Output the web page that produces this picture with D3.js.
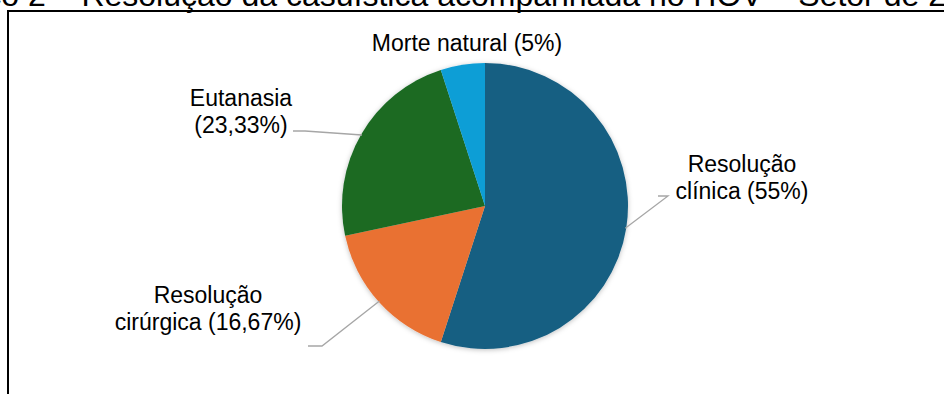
<!DOCTYPE html>
<html>
<head>
<meta charset="utf-8">
<script src="https://cdn.jsdelivr.net/npm/d3@7"></script>
<style>
  body { margin: 0; background: #fff; }
  svg { display: block; font-family: "Liberation Sans", Arial, sans-serif; }
</style>
</head>
<body>
<div id="chart"></div>
<script>
// data
const categories = ["Resolução clínica", "Resolução cirúrgica", "Eutanasia", "Morte natural"];
const values = [55, 16.67, 23.33, 5];
const labelLines = [
    ["Resolução", "clínica (55%)"],
    ["Resolução", "cirúrgica (16,67%)"],
    ["Eutanasia", "(23,33%)"],
    ["Morte natural (5%)"]
];
const colors = ["#175f82", "#e97132", "#1a6b24", "#109ed6"];

// label layout: text centre / first baseline, and the outer end of the leader line
const labelLayout = [
    {x: 742, y: 172, line: [[668, 196], [658, 196]]},
    {x: 208, y: 303, line: [[322, 346], [308, 346]]},
    {x: 241, y: 106, line: [[305, 131], [293, 131]]},
    {x: 467, y: 51, line: null}
];

const width = 944, height = 394;
const cx = 485, cy = 206, radius = 143;

const svg = d3.select("#chart").append("svg")
    .attr("width", width)
    .attr("height", height);

// title (cut off at the top like the source)
svg.append("text")
    .attr("x", -84)
    .attr("y", 6)
    .attr("font-size", 32)
    .attr("fill", "#000")
    .text("Gráfico 2 – Resolução da casuística acompanhada no HOV – Setor de 2");

// frame
svg.append("path")
    .attr("d", `M8,${height + 5} L8,11 L${width + 5},11`)
    .attr("fill", "none")
    .attr("stroke", "#000")
    .attr("stroke-width", 2);

const defs = svg.append("defs");
const shadow = defs.append("filter").attr("id", "shadow")
    .attr("x", "-10%").attr("y", "-10%").attr("width", "120%").attr("height", "120%");
shadow.append("feDropShadow")
    .attr("dx", 0).attr("dy", 1)
    .attr("stdDeviation", 2.5)
    .attr("flood-color", "#000")
    .attr("flood-opacity", 0.25);

const pie = d3.pie().sort(null).value(d => d)(values);
const arc = d3.arc().innerRadius(0).outerRadius(radius);

const g = svg.append("g").attr("transform", `translate(${cx},${cy})`);

g.append("g").attr("filter", "url(#shadow)")
    .selectAll("path")
    .data(pie)
    .enter().append("path")
    .attr("d", arc)
    .attr("fill", (d, i) => colors[i]);

// leader lines
pie.forEach((d, i) => {
    const lay = labelLayout[i];
    if (!lay.line) return;
    const a = (d.startAngle + d.endAngle) / 2;
    const px = cx + (radius - 1) * Math.sin(a);
    const py = cy - (radius - 1) * Math.cos(a);
    svg.append("polyline")
        .attr("points", [[px, py]].concat(lay.line).map(p => p.join(",")).join(" "))
        .attr("fill", "none")
        .attr("stroke", "#a6a6a6")
        .attr("stroke-width", 1.3);
});

// labels
labelLines.forEach((lines, i) => {
    const lay = labelLayout[i];
    const t = svg.append("text")
        .attr("text-anchor", "middle")
        .attr("font-size", 23)
        .attr("fill", "#000");
    lines.forEach((s, j) => {
        t.append("tspan")
            .attr("x", lay.x)
            .attr("y", lay.y + j * 27)
            .text(s);
    });
});
</script>
</body>
</html>
